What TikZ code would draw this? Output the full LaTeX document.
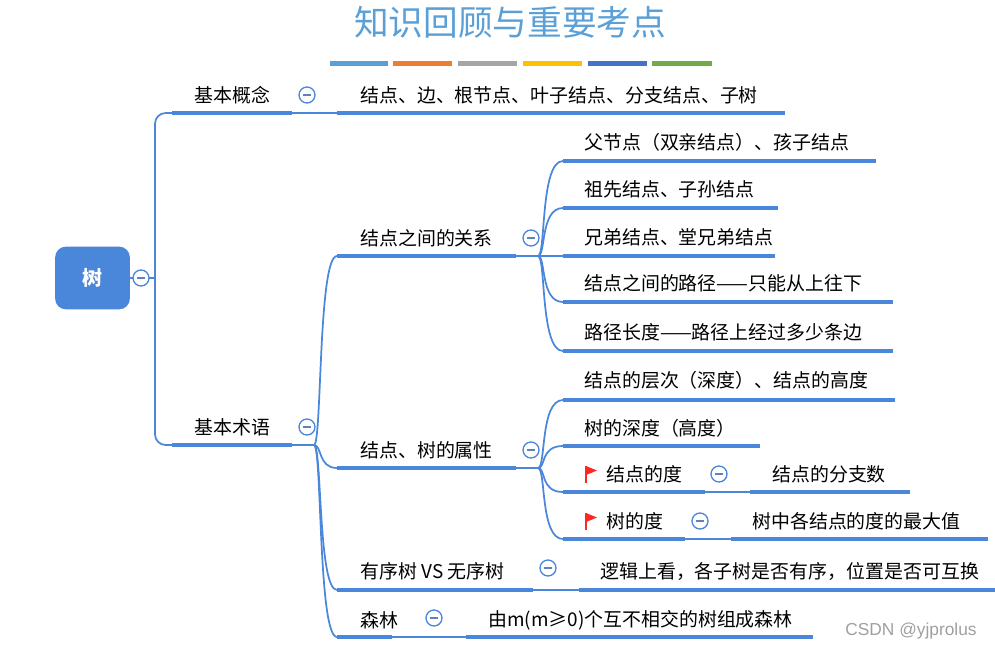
\documentclass[tikz,border=0pt]{standalone}
\usepackage{fontspec}
\setmainfont{Noto Sans CJK SC}
\newfontfamily\wmfont{Liberation Sans}
\begin{document}
\begin{tikzpicture}[x=0.75pt,y=-0.75pt,
  txt/.style={anchor=west,inner sep=0pt,font=\fontsize{14.2pt}{15pt}\selectfont},
  uline/.style={line width=3pt,draw=mb},
  thin/.style={line width=1.3pt,draw=mb},
  minus/.style={circle,draw=mb,line width=1pt,minimum size=12pt,inner sep=0pt,fill=white,
    path picture={\draw[line width=1.2pt,draw=mb!60!gray] ([xshift=-3pt]path picture bounding box.center)--([xshift=3pt]path picture bounding box.center);}}]
\definecolor{mb}{RGB}{74,134,218}
\definecolor{tb}{RGB}{90,160,215}
\definecolor{c2}{RGB}{237,125,49}
\definecolor{c3}{RGB}{165,165,165}
\definecolor{c4}{RGB}{255,192,0}
\definecolor{c5}{RGB}{68,114,196}
\definecolor{c6}{RGB}{112,173,71}
\useasboundingbox (0,0) rectangle (995,650);
% title
\node[inner sep=0pt,text=tb,font=\fontsize{26pt}{27pt}\selectfont] (title) at (510,22) {知识回顾与重要考点};
\foreach \a/\b/\c in {330/388/tb,393/452/c2,458/517/c3,523/582/c4,588/647/c5,652/712/c6}
  \fill[\c] (\a,61) rectangle (\b,66);
% root
\node[fill=mb,rounded corners=8pt,minimum width=56pt,minimum height=47pt,text=white,font=\fontsize{15pt}{16pt}\selectfont\bfseries] (root) at (92.5,278) {树};
\coordinate (m0c) at (141,278);
\draw[thin] (root.east) -- (155,278);
% level 1
\coordinate (a1) at (172,113); \coordinate (a2) at (292,113);
\coordinate (b1) at (172,445); \coordinate (b2) at (292,445);
\draw[thin,rounded corners=8pt] (a1) -- (155,113) -- (155,445) -- (b1);
\draw[uline] (a1) -- (a2); \draw[uline] (b1) -- (b2);
\node[txt] (n1) at (194,95) {基本概念};
\node[txt] (n2) at (194,427) {基本术语};
\coordinate (c1) at (337,113); \coordinate (c2) at (785,113);
\draw[thin] (a2) -- (c1); \draw[uline] (c1) -- (c2);
\node[txt] (t1) at (360,95) {结点、边、根节点、叶子结点、分支结点、子树};
% level 2 under 基本术语
\coordinate (b3) at (314,445);
\draw[thin] (b2) -- (b3);
\foreach \y/\e [count=\i] in {256/516,468/516,590/533,637/392}{
  \coordinate (d\i) at (337,\y); \coordinate (e\i) at (\e,\y);
  \draw[thin] (b3) .. controls (322,445) and (318,\y) .. (d\i);
  \draw[uline] (d\i) -- (e\i);
}
\node[txt] (r1) at (360,238) {结点之间的关系};
\node[txt] (r2) at (360,450) {结点、树的属性};
\node[txt] (r3) at (360,571) {有序树 VS 无序树};
\node[txt] (r4) at (360,620) {森林};
% children of 关系
\coordinate (e1b) at (538,256);
\draw[thin] (e1) -- (e1b);
\foreach \y/\e/\t [count=\i] in {161/876/父节点（双亲结点）、孩子结点,208/778/祖先结点、子孙结点,256/775/兄弟结点、堂兄弟结点,302/893/结点之间的路径——只能从上往下,351/893/路径长度——路径上经过多少条边}{
  \coordinate (f\i) at (563,\y); \coordinate (g\i) at (\e,\y);
  \draw[thin] (e1b) .. controls (546,256) and (540,\y) .. (f\i);
  \draw[uline] (f\i) -- (g\i);
  \node[txt] (ft\i) at (584,\y-19) {\t};
}
% children of 属性
\coordinate (e2b) at (538,468);
\draw[thin] (e2) -- (e2b);
\foreach \y/\e [count=\i] in {400/895,446/760,492/705,539/685}{
  \coordinate (h\i) at (563,\y); \coordinate (k\i) at (\e,\y);
  \draw[thin] (e2b) .. controls (546,468) and (540,\y) .. (h\i);
  \draw[uline] (h\i) -- (k\i);
}
\node[txt] (ht1) at (584,380) {结点的层次（深度）、结点的高度};
\node[txt] (ht2) at (584,428) {树的深度（高度）};
\node[txt] (ht3) at (606,474) {结点的度};
\node[txt] (ht4) at (606,521) {树的度};
\foreach \yy in {474,521}{
  \fill[red!85!white] (586,\yy-8) -- (597,\yy-3.5) -- (586,\yy+1) -- cycle;
  \draw[red!85!white,line width=1.5pt] (586,\yy-8) -- (586,\yy+9);
}
\coordinate (p1) at (750,492); \coordinate (q1) at (910,492);
\draw[thin] (k3) -- (p1); \draw[uline] (p1) -- (q1);
\node[txt] (pt1) at (772,474) {结点的分支数};
\coordinate (p2) at (731,539); \coordinate (q2) at (988,539);
\draw[thin] (k4) -- (p2); \draw[uline] (p2) -- (q2);
\node[txt] (pt2) at (752,521) {树中各结点的度的最大值};
% 有序树
\coordinate (p3) at (579,590); \coordinate (q3) at (995,590);
\draw[thin] (e3) -- (p3); \draw[uline] (p3) -- (q3);
\node[txt] (pt3) at (600,571) {逻辑上看，各子树是否有序，位置是否可互换};
% 森林
\coordinate (p4) at (466,637); \coordinate (q4) at (813,637);
\draw[thin] (e4) -- (p4); \draw[uline] (p4) -- (q4);
\node[txt] (pt4) at (488,620) {由m(m≥0)个互不相交的树组成森林};
% collapse markers
\node[minus] (m0) at (m0c) {};
\node[minus] (m1) at (307,95) {};
\node[minus] (m2) at (307,427) {};
\node[minus] (mr1) at (531,238) {};
\node[minus] (mr2) at (531,450) {};
\node[minus] (mr3) at (548,568) {};
\node[minus] (mr4) at (434,618) {};
\node[minus] (mh3) at (719,474) {};
\node[minus] (mh4) at (700,521) {};
\node[inner sep=0pt,text=gray!75,font=\fontsize{13pt}{14pt}\selectfont\wmfont] (wm) at (911,631) {CSDN @yjprolus};
\end{tikzpicture}
\end{document}
